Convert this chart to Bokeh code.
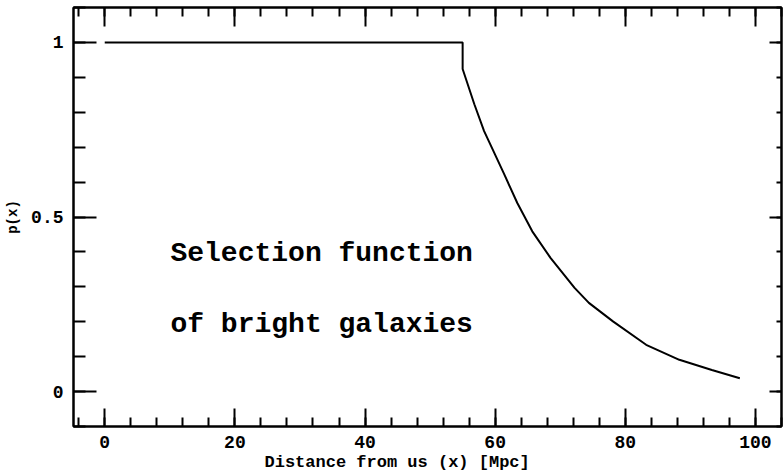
from bokeh.plotting import figure
from bokeh.models import (LinearAxis, SingleIntervalTicker, CustomJSTickFormatter,
                          Range1d, Title)
from bokeh.core.properties import value
from bokeh.embed import file_html
from bokeh.resources import INLINE

# ---- data ----
distance = [0, 55, 55, 56.8, 58.3, 59.7, 61.4, 63.4, 65.7, 68.5, 72.2, 74.4,
            78.1, 83.2, 88.3, 93.3, 97.6]
prob = [1, 1, 0.924, 0.823, 0.746, 0.690, 0.622, 0.540, 0.459, 0.383, 0.297, 0.254,
        0.201, 0.134, 0.091, 0.062, 0.038]
note_lines = ["Selection function", "of bright galaxies"]
note_x = [10.1, 10.1]
note_y = [0.396, 0.192]
x_title = "Distance from us (x) [Mpc]"
y_title = "p(x)"

MONO = "Liberation Mono"

p = figure(width=784, height=472, output_backend="svg", toolbar_location=None,
           x_range=Range1d(-4.8, 104), y_range=Range1d(-0.1, 1.1),
           x_axis_location=None, y_axis_location=None,
           min_border_left=73, min_border_right=3, min_border_top=7, min_border_bottom=46)
p.grid.visible = False
p.background_fill_color = "white"
p.border_fill_color = "white"
p.outline_line_color = "black"
p.outline_line_width = 2

xt = SingleIntervalTicker(interval=20, num_minor_ticks=5)
yt = SingleIntervalTicker(interval=0.5, num_minor_ticks=5)
yfmt = CustomJSTickFormatter(code="return String(Math.round(tick*10)/10)")
blank = CustomJSTickFormatter(code="return ''")


def style(ax, major_in, minor_in, show_labels):
    ax.axis_line_width = 2
    ax.axis_line_color = "black"
    ax.major_tick_in = major_in
    ax.major_tick_out = 0
    ax.minor_tick_in = minor_in
    ax.minor_tick_out = 0
    ax.major_tick_line_width = 2
    ax.minor_tick_line_width = 2
    ax.major_tick_line_color = "black"
    ax.minor_tick_line_color = "black"
    if show_labels:
        ax.major_label_text_font = MONO
        ax.major_label_text_font_style = "bold"
        ax.major_label_text_font_size = "18px"
        ax.major_label_text_color = "black"
    else:
        ax.formatter = blank
        ax.major_label_standoff = 0


bottom = LinearAxis(ticker=xt)
style(bottom, 18, 9, True)
bottom.major_label_standoff = 9
p.add_layout(bottom, "below")

top = LinearAxis(ticker=xt)
style(top, 19, 9, False)
p.add_layout(top, "above")

left = LinearAxis(ticker=yt, formatter=yfmt, axis_label=y_title)
style(left, 23, 12, True)
left.major_label_standoff = 10
left.axis_label_text_font = MONO
left.axis_label_text_font_style = "bold"
left.axis_label_text_font_size = "14px"
left.axis_label_text_color = "black"
left.axis_label_standoff = 7
p.add_layout(left, "left")

right = LinearAxis(ticker=yt)
style(right, 12, 5, False)
p.add_layout(right, "right")

p.line(distance, prob, line_color="black", line_width=2)

p.text(x=note_x, y=note_y, text=note_lines, text_font=value(MONO),
       text_font_style="bold", text_font_size="28px", text_color="black",
       text_baseline="alphabetic", text_align="left")

p.add_layout(Title(text=x_title, align="left", offset=191, text_font=MONO,
                   text_font_style="bold", text_font_size="17px",
                   text_color="black", standoff=0), "below")

open("out.html", "w").write(file_html(p, INLINE))
